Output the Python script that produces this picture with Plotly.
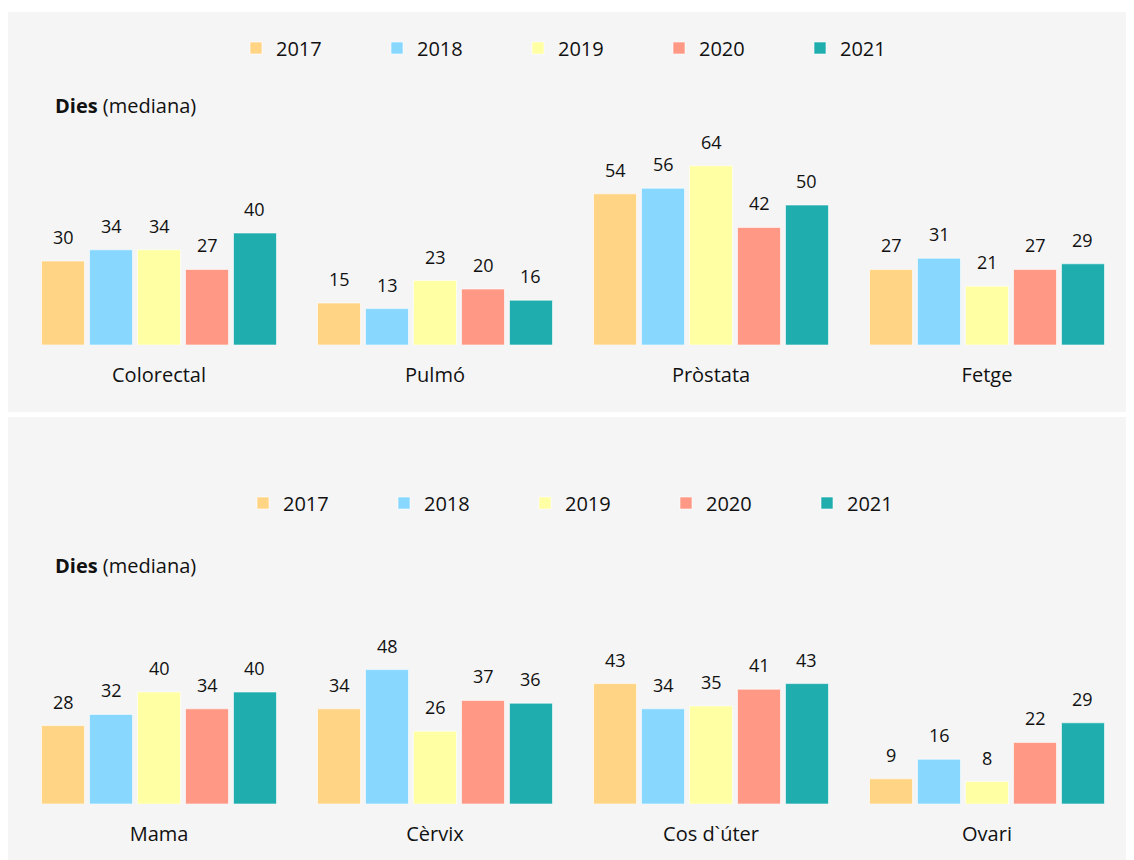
import plotly.graph_objects as go

years = ["2017", "2018", "2019", "2020", "2021"]
colors = ["#FFD485", "#87D7FF", "#FFFFA3", "#FF9985", "#1FADAD"]

categories_top = ["Colorectal", "Pulmó", "Pròstata", "Fetge"]
values_top = {
    "2017": [30, 15, 54, 27],
    "2018": [34, 13, 56, 31],
    "2019": [34, 23, 64, 21],
    "2020": [27, 20, 42, 27],
    "2021": [40, 16, 50, 29],
}

categories_bottom = ["Mama", "Cèrvix", "Cos d`úter", "Ovari"]
values_bottom = {
    "2017": [28, 34, 43, 9],
    "2018": [32, 48, 34, 16],
    "2019": [40, 26, 35, 8],
    "2020": [34, 37, 41, 22],
    "2021": [40, 36, 43, 29],
}

W, H = 1126, 852
FONT = "Open Sans"


def px(x):
    return (x - 8) / W


def py(y):
    return 1 - (y - 8) / H


slot = 0.1739
bw = 0.1558

fig = go.Figure()
annotations = []

panels = [
    (categories_top, values_top, "x", "y", "legend"),
    (categories_bottom, values_bottom, "x2", "y2", "legend2"),
]

for cats, vals, xa, ya, lg in panels:
    for j, yr in enumerate(years):
        off = (j - 2) * slot
        fig.add_trace(go.Bar(
            x=cats, y=vals[yr], name=yr, xaxis=xa, yaxis=ya, legend=lg,
            width=bw, offset=off - bw / 2,
            marker=dict(color=colors[j], line=dict(color="rgba(255,255,255,0.6)", width=1)),
            hoverinfo="x+y+name",
        ))
        for i, v in enumerate(vals[yr]):
            annotations.append(dict(
                x=i + off, y=v, xref=xa, yref=ya, text=str(v), showarrow=False,
                yanchor="middle", yshift=24,
                font=dict(family=FONT, size=18, color="#111111"),
            ))

for yc in (105, 565):
    annotations.append(dict(
        x=px(53), y=py(yc), xref="paper", yref="paper", xanchor="left", yanchor="middle",
        text="<b>Dies</b> (mediana)", showarrow=False,
        font=dict(family=FONT, size=20, color="#111111"),
    ))

shapes = [
    dict(type="rect", xref="paper", yref="paper", x0=0, x1=1, y0=py(412), y1=py(12),
         fillcolor="#F5F5F5", line=dict(width=0), layer="below"),
    dict(type="rect", xref="paper", yref="paper", x0=0, x1=1, y0=0, y1=py(417),
         fillcolor="#F5F5F5", line=dict(width=0), layer="below"),
]

xdom = [px(21), px(1125)]
yr_max = 220 / 2.8
xaxis_common = dict(domain=xdom, range=[-0.5, 3.5], showgrid=False, zeroline=False,
                    showline=False, ticks="", ticklabelstandoff=16,
                    tickfont=dict(family=FONT, size=20, color="#111111"), fixedrange=True)
yaxis_common = dict(range=[0, yr_max], visible=False, fixedrange=True)

legend_common = dict(orientation="h", entrywidth=96, entrywidthmode="pixels",
                     font=dict(family=FONT, size=20, color="#111111"),
                     bgcolor="rgba(0,0,0,0)", xanchor="left", yanchor="middle",
                     itemclick=False, itemdoubleclick=False)

fig.update_layout(
    width=W, height=H,
    margin=dict(l=0, r=0, t=0, b=0, autoexpand=False),
    paper_bgcolor="white", plot_bgcolor="rgba(0,0,0,0)",
    barmode="overlay",
    xaxis=dict(**xaxis_common, anchor="y"),
    yaxis=dict(**yaxis_common, domain=[py(345), py(125)], anchor="x"),
    xaxis2=dict(**xaxis_common, anchor="y2"),
    yaxis2=dict(**yaxis_common, domain=[py(804), py(584)], anchor="x2"),
    legend=dict(**legend_common, x=px(278 - 42), y=py(48)),
    legend2=dict(**legend_common, x=px(285 - 42), y=py(503)),
    annotations=annotations,
    shapes=shapes,
    font=dict(family=FONT),
)

fig.write_html("out.html")
